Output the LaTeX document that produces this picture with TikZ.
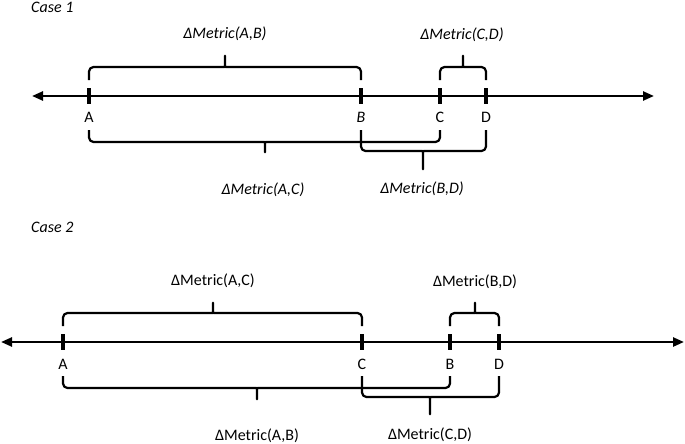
\documentclass[tikz,border=0pt]{standalone}
\usepackage{fontspec}
\setmainfont{Carlito}
\usetikzlibrary{arrows.meta}
\tikzset{
  axis/.style={line width=2.4pt,{Triangle[length=11pt,width=9pt]}-{Triangle[length=11pt,width=9pt]}},
  tickmark/.style={line width=3.6pt},
  bracket/.style={line width=2.2pt,rounded corners=4.5pt,line join=round},
  lbl/.style={font=\fontsize{16}{18}\selectfont,inner sep=0pt,anchor=center},
}
% \mybrace{x1}{x2}{ybar}{yend}{xtip}{ytip}{dir}  dir=-1 tip up, +1 tip down
\newcommand\mybrace[7]{%
  \draw[bracket] (#1,#4) -- (#1,#3) -- ({#5-5},#3)
    .. controls ({#5-1},#3) and (#5,{#3+#7*1}) .. (#5,{#3+#7*5}) -- (#5,#6)
    -- (#5,{#3+#7*5}) .. controls (#5,{#3+#7*1}) and ({#5+1},#3) .. ({#5+5},#3)
    -- (#2,#3) -- (#2,#4);}
\begin{document}
\begin{tikzpicture}[x=1pt,y=-1pt]
\useasboundingbox (0,0) rectangle (685,444);
% ---------- Case 1 ----------
\node[lbl,anchor=west] (case1) at (31,7) {\itshape Case 1};
\coordinate (L1) at (32,96);
\coordinate (R1) at (654,96);
\draw[axis] (L1) -- (R1);
\foreach \n/\x in {A/89,B/361,C/440,D/486}{
  \coordinate (t1\n) at (\x,96);
  \draw[tickmark] (\x,88) -- (\x,104);
}
\node[lbl] (a1) at (89,117) {A};
\node[lbl] (b1) at (361,117) {\itshape B};
\node[lbl] (c1) at (440,117) {C};
\node[lbl] (d1) at (486,117) {D};
\mybrace{89}{361}{67}{80}{225}{53}{-1}
\mybrace{440}{486}{67}{80}{463}{53}{-1}
\mybrace{89}{440}{142}{130}{265}{155}{1}
\mybrace{361}{486}{151}{130}{423}{172}{1}
\node[lbl] (mab1) at (225,34) {\itshape ΔMetric(A,B)};
\node[lbl] (mcd1) at (462,35) {\itshape ΔMetric(C,D)};
\node[lbl] (mac1) at (263,190) {\itshape ΔMetric(A,C)};
\node[lbl] (mbd1) at (422,189) {\itshape ΔMetric(B,D)};
% ---------- Case 2 ----------
\node[lbl,anchor=west] (case2) at (31,227) {\itshape Case 2};
\coordinate (L2) at (1,342);
\coordinate (R2) at (684,342);
\draw[axis] (L2) -- (R2);
\foreach \n/\x in {A/63,C/362,B/450,D/499}{
  \coordinate (t2\n) at (\x,342);
  \draw[tickmark] (\x,334) -- (\x,350);
}
\node[lbl] (a2) at (63,364) {A};
\node[lbl] (c2) at (362,364) {C};
\node[lbl] (b2) at (450,364) {B};
\node[lbl] (d2) at (499,364) {D};
\mybrace{63}{362}{313}{326}{213}{300}{-1}
\mybrace{450}{499}{313}{326}{475}{300}{-1}
\mybrace{63}{450}{388}{376}{257}{402}{1}
\mybrace{362}{499}{397}{376}{430}{417}{1}
\node[lbl] (mac2) at (213,281) {ΔMetric(A,C)};
\node[lbl] (mbd2) at (475,282) {ΔMetric(B,D)};
\node[lbl] (mab2) at (257,436) {ΔMetric(A,B)};
\node[lbl] (mcd2) at (430,435) {ΔMetric(C,D)};
\end{tikzpicture}
\end{document}
